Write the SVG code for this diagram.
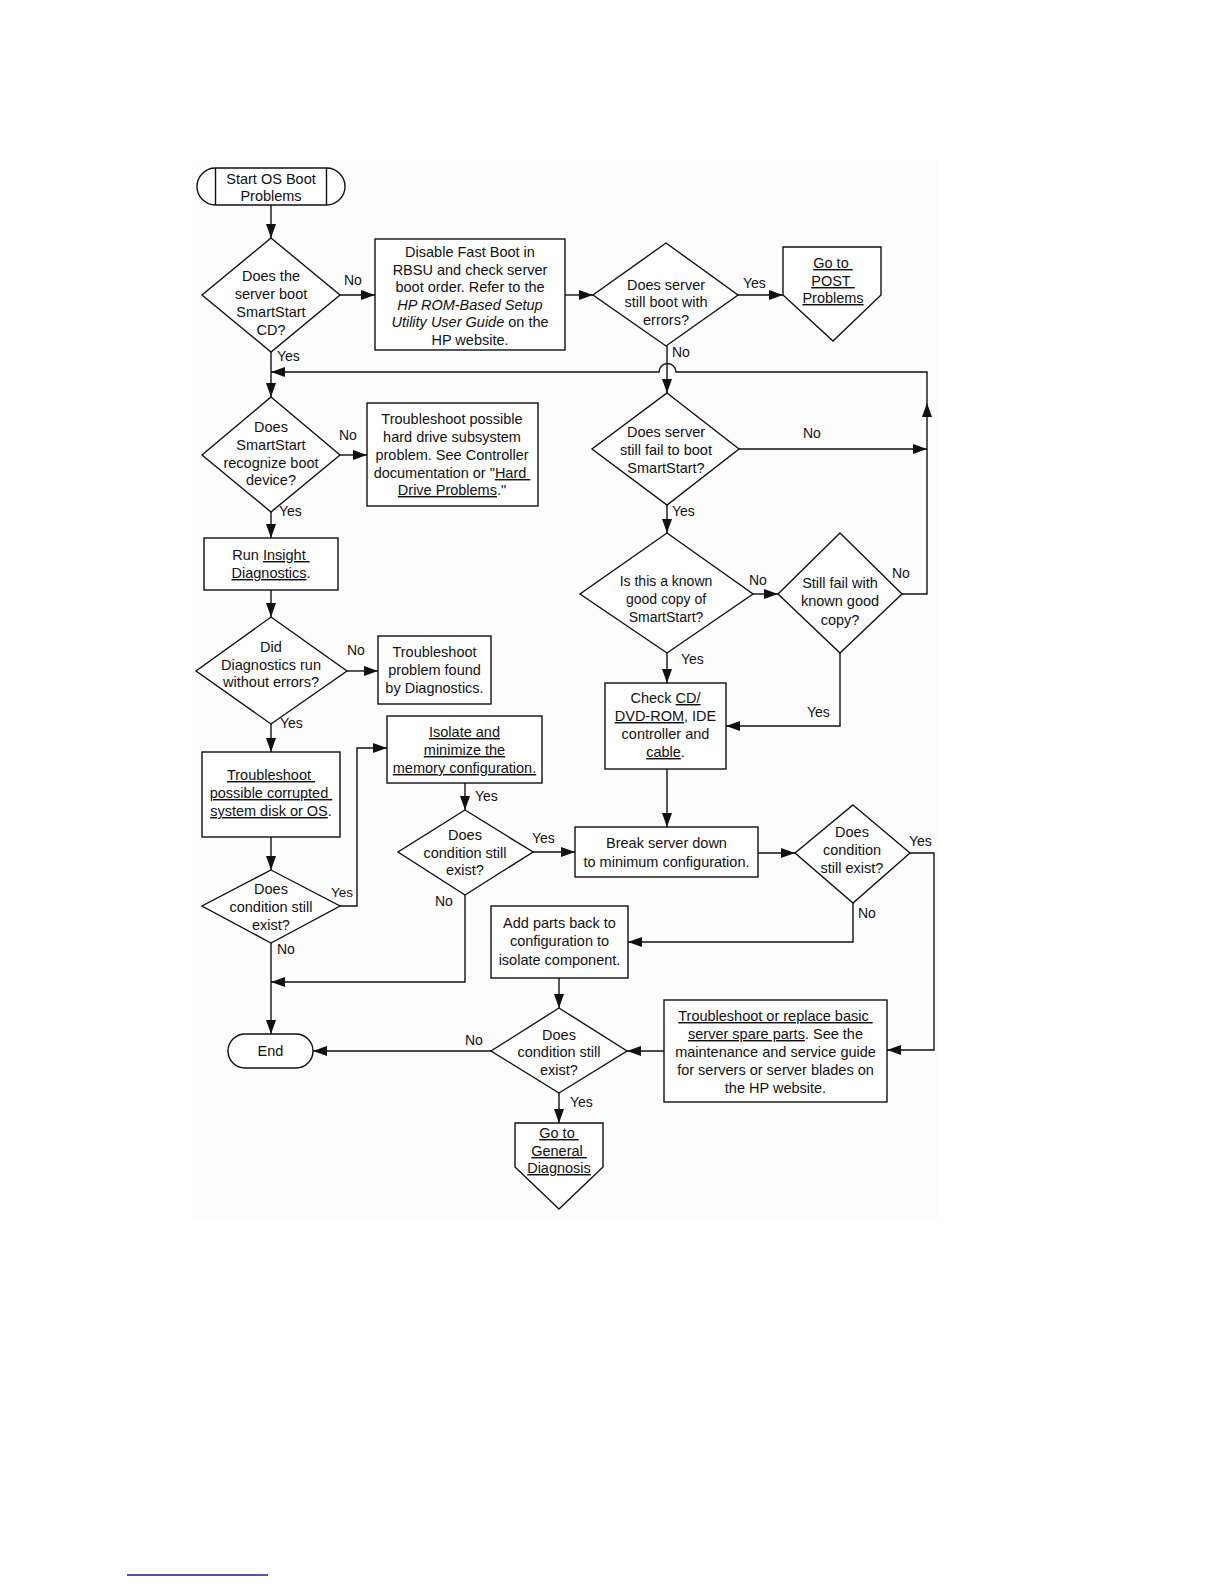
<svg xmlns="http://www.w3.org/2000/svg" width="1224" height="1584" viewBox="0 0 1224 1584">
<defs>
<marker id="arr" markerUnits="userSpaceOnUse" markerWidth="14" markerHeight="10" refX="14" refY="5" orient="auto">
<path d="M0,0 L14,5 L0,10 z" fill="#111"/>
</marker>
<style>
text{font-family:"Liberation Sans",Arial,sans-serif;font-size:14.5px;fill:#111;text-anchor:middle}
.lbl{font-size:14px;text-anchor:start}
.sm{font-size:14px}
.u{text-decoration:underline}
.i{font-style:italic}
.shape{fill:#fff;stroke:#111;stroke-width:1.4}
.c{fill:none;stroke:#111;stroke-width:1.4}
</style>
</defs>
<rect x="0" y="0" width="1224" height="1584" fill="#fff"/>
<rect x="192" y="161" width="746" height="1058" fill="#fcfcfc"/>

<g id="connectors">
<path class="c" d="M271,205 V238" marker-end="url(#arr)"/>
<path class="c" d="M340,295 H375" marker-end="url(#arr)"/>
<path class="c" d="M565,295 H593" marker-end="url(#arr)"/>
<path class="c" d="M738,295 H783" marker-end="url(#arr)"/>
<path class="c" d="M271,352 V397" marker-end="url(#arr)"/>
<path class="c" d="M667,346 V393" marker-end="url(#arr)"/>
<path class="c" d="M739,449 H927" marker-end="url(#arr)"/>
<path class="c" d="M902,594 H927 V403" marker-end="url(#arr)"/>
<path class="c" d="M927,403 V372 H676 A8.5,8.5 0 0 0 659,372 H271" marker-end="url(#arr)"/>
<path class="c" d="M340,455 H367" marker-end="url(#arr)"/>
<path class="c" d="M271,512 V538" marker-end="url(#arr)"/>
<path class="c" d="M271,590 V617" marker-end="url(#arr)"/>
<path class="c" d="M347,671 H378" marker-end="url(#arr)"/>
<path class="c" d="M271,724 V752" marker-end="url(#arr)"/>
<path class="c" d="M271,837 V870" marker-end="url(#arr)"/>
<path class="c" d="M340,906 H357 V748 H387" marker-end="url(#arr)"/>
<path class="c" d="M465,783 V810" marker-end="url(#arr)"/>
<path class="c" d="M533,852 H575" marker-end="url(#arr)"/>
<path class="c" d="M465,895 V982 H271" marker-end="url(#arr)"/>
<path class="c" d="M271,943 V1034" marker-end="url(#arr)"/>
<path class="c" d="M667,505 V533" marker-end="url(#arr)"/>
<path class="c" d="M753,594 H778" marker-end="url(#arr)"/>
<path class="c" d="M667,653 V683" marker-end="url(#arr)"/>
<path class="c" d="M840,653 V726 H726" marker-end="url(#arr)"/>
<path class="c" d="M667,769 V827" marker-end="url(#arr)"/>
<path class="c" d="M758,853 H795" marker-end="url(#arr)"/>
<path class="c" d="M910,853 H934 V1050 H887" marker-end="url(#arr)"/>
<path class="c" d="M853,903 V942 H628" marker-end="url(#arr)"/>
<path class="c" d="M559,978 V1008" marker-end="url(#arr)"/>
<path class="c" d="M664,1051 H627" marker-end="url(#arr)"/>
<path class="c" d="M491,1051 H313" marker-end="url(#arr)"/>
<path class="c" d="M559,1093 V1123" marker-end="url(#arr)"/>
<text class="lbl" x="344" y="285">No</text>
<text class="lbl" x="743" y="288">Yes</text>
<text class="lbl" x="277" y="361">Yes</text>
<text class="lbl" x="672" y="357">No</text>
<text class="lbl" x="803" y="438">No</text>
<text class="lbl" x="892" y="578">No</text>
<text class="lbl" x="339" y="440">No</text>
<text class="lbl" x="279" y="516">Yes</text>
<text class="lbl" x="347" y="655">No</text>
<text class="lbl" x="280" y="728">Yes</text>
<text class="lbl" x="331" y="897" style="font-size:13.5px">Yes</text>
<text class="lbl" x="475" y="801">Yes</text>
<text class="lbl" x="532" y="843">Yes</text>
<text class="lbl" x="435" y="906">No</text>
<text class="lbl" x="277" y="954">No</text>
<text class="lbl" x="672" y="516">Yes</text>
<text class="lbl" x="749" y="585">No</text>
<text class="lbl" x="681" y="664">Yes</text>
<text class="lbl" x="807" y="717">Yes</text>
<text class="lbl" x="909" y="846">Yes</text>
<text class="lbl" x="858" y="918">No</text>
<text class="lbl" x="465" y="1045">No</text>
<text class="lbl" x="570" y="1107">Yes</text>
</g>

<g id="start">
<rect class="shape" x="197" y="168" width="148" height="37" rx="18.5"/>
<path class="c" d="M215.5,168 V205 M326.5,168 V205"/>
<text x="271" y="184">Start OS Boot</text>
<text x="271" y="201">Problems</text>
</g>

<g id="d-boot-cd">
<polygon class="shape" points="271,238 340,295 271,352 202,295"/>
<text x="271" y="281">Does the</text>
<text x="271" y="299">server boot</text>
<text x="271" y="317">SmartStart</text>
<text x="271" y="335">CD?</text>
</g>

<g id="disable-fast-boot">
<rect class="shape" x="375" y="239" width="190" height="111"/>
<text x="470" y="257">Disable Fast Boot in</text>
<text x="470" y="274.5">RBSU and check server</text>
<text x="470" y="292">boot order. Refer to the</text>
<text x="470" y="309.5" class="i">HP ROM-Based Setup</text>
<text x="470" y="327"><tspan class="i">Utility User Guide</tspan> on the</text>
<text x="470" y="344.5">HP website.</text>
</g>

<g id="d-boot-errors">
<polygon class="shape" points="666,243 738,295 666,346 593,295"/>
<text x="666" y="290">Does server</text>
<text x="666" y="307">still boot with</text>
<text x="666" y="325">errors?</text>
</g>

<g id="go-post">
<polygon class="shape" points="783,247 881,247 881,295 833,341 783,295"/>
<text x="833" y="268" class="u">Go to&#160;</text>
<text x="833" y="286" class="u">POST&#160;</text>
<text x="833" y="303" class="u">Problems</text>
</g>

<g id="d-recognize">
<polygon class="shape" points="271,397 340,455 271,512 202,455"/>
<text x="271" y="432">Does</text>
<text x="271" y="450">SmartStart</text>
<text x="271" y="468">recognize boot</text>
<text x="271" y="485">device?</text>
</g>

<g id="hard-drive">
<rect class="shape" x="367" y="403" width="171" height="103"/>
<text x="452" y="424">Troubleshoot possible</text>
<text x="452" y="442">hard drive subsystem</text>
<text x="452" y="460">problem. See Controller</text>
<text x="452" y="478">documentation or "<tspan class="u">Hard&#160;</tspan></text>
<text x="452" y="495"><tspan class="u">Drive Problems</tspan>."</text>
</g>

<g id="run-insight">
<rect class="shape" x="204" y="538" width="134" height="52"/>
<text x="271" y="560">Run <tspan class="u">Insight&#160;</tspan></text>
<text x="271" y="578"><tspan class="u">Diagnostics</tspan>.</text>
</g>

<g id="d-diag">
<polygon class="shape" points="271,617 347,671 271,724 196,671"/>
<text x="271" y="652">Did</text>
<text x="271" y="670">Diagnostics run</text>
<text x="271" y="687">without errors?</text>
</g>

<g id="diag-problem">
<rect class="shape" x="378" y="636" width="113" height="68"/>
<text x="434.5" y="657">Troubleshoot</text>
<text x="434.5" y="675">problem found</text>
<text x="434.5" y="693">by Diagnostics.</text>
</g>

<g id="corrupted">
<rect class="shape" x="202" y="752" width="138" height="85"/>
<text x="271" y="780" class="u">Troubleshoot&#160;</text>
<text x="271" y="798" class="u">possible corrupted&#160;</text>
<text x="271" y="816"><tspan class="u">system disk or OS</tspan>.</text>
</g>

<g id="d-cond-1">
<polygon class="shape" points="271,870 340,906 271,943 202,906"/>
<text x="271" y="894">Does</text>
<text x="271" y="912">condition still</text>
<text x="271" y="930">exist?</text>
</g>

<g id="isolate-memory">
<rect class="shape" x="387" y="716" width="155" height="67"/>
<text x="464.5" y="737" class="u">Isolate and</text>
<text x="464.5" y="755" class="u">minimize the</text>
<text x="464.5" y="773" class="u">memory configuration.</text>
</g>

<g id="d-cond-2">
<polygon class="shape" points="465,810 533,852 465,895 398,852"/>
<text x="465" y="840">Does</text>
<text x="465" y="858">condition still</text>
<text x="465" y="875">exist?</text>
</g>

<g id="d-fail-smartstart">
<polygon class="shape" points="667,393 739,449 667,505 592,449"/>
<text x="666" y="437">Does server</text>
<text x="666" y="455">still fail to boot</text>
<text x="666" y="473">SmartStart?</text>
</g>

<g id="d-known-good">
<polygon class="shape" points="667,533 753,594 667,653 580,594"/>
<text x="666" y="586" class="sm">Is this a known</text>
<text x="666" y="604" class="sm">good copy of</text>
<text x="666" y="622" class="sm">SmartStart?</text>
</g>

<g id="d-still-fail">
<polygon class="shape" points="840,533 902,594 840,653 778,594"/>
<text x="840" y="588">Still fail with</text>
<text x="840" y="606">known good</text>
<text x="840" y="625">copy?</text>
</g>

<g id="check-cd">
<rect class="shape" x="605" y="683" width="121" height="86"/>
<text x="665.5" y="703">Check <tspan class="u">CD/</tspan></text>
<text x="665.5" y="721"><tspan class="u">DVD-ROM</tspan>, IDE</text>
<text x="665.5" y="739">controller and</text>
<text x="665.5" y="757"><tspan class="u">cable</tspan>.</text>
</g>

<g id="break-down">
<rect class="shape" x="575" y="827" width="183" height="50"/>
<text x="666.5" y="848">Break server down</text>
<text x="666.5" y="867">to minimum configuration.</text>
</g>

<g id="d-cond-3">
<polygon class="shape" points="853,805 910,853 853,903 795,853"/>
<text x="852" y="837">Does</text>
<text x="852" y="855">condition</text>
<text x="852" y="873">still exist?</text>
</g>

<g id="add-parts">
<rect class="shape" x="491" y="906" width="137" height="72"/>
<text x="559.5" y="928">Add parts back to</text>
<text x="559.5" y="946">configuration to</text>
<text x="559.5" y="965">isolate component.</text>
</g>

<g id="d-cond-4">
<polygon class="shape" points="559,1008 627,1051 559,1093 491,1051"/>
<text x="559" y="1040">Does</text>
<text x="559" y="1057">condition still</text>
<text x="559" y="1075">exist?</text>
</g>

<g id="spare-parts">
<rect class="shape" x="664" y="1000" width="223" height="102"/>
<text x="775.5" y="1021" class="u">Troubleshoot or replace basic&#160;</text>
<text x="775.5" y="1039"><tspan class="u">server spare parts</tspan>. See the</text>
<text x="775.5" y="1057">maintenance and service guide</text>
<text x="775.5" y="1075">for servers or server blades on</text>
<text x="775.5" y="1093">the HP website.</text>
</g>

<g id="end">
<rect class="shape" x="228" y="1034" width="85" height="34" rx="17"/>
<text x="270.5" y="1056">End</text>
</g>

<g id="go-general">
<polygon class="shape" points="515,1123 603,1123 603,1167 559,1209 515,1167"/>
<text x="559" y="1138" class="u">Go to&#160;</text>
<text x="559" y="1156" class="u">General&#160;</text>
<text x="559" y="1173" class="u">Diagnosis</text>
</g>

<line x1="127" y1="1575" x2="268" y2="1575" stroke="#1b1b8f" stroke-width="1.5"/>
</svg>
